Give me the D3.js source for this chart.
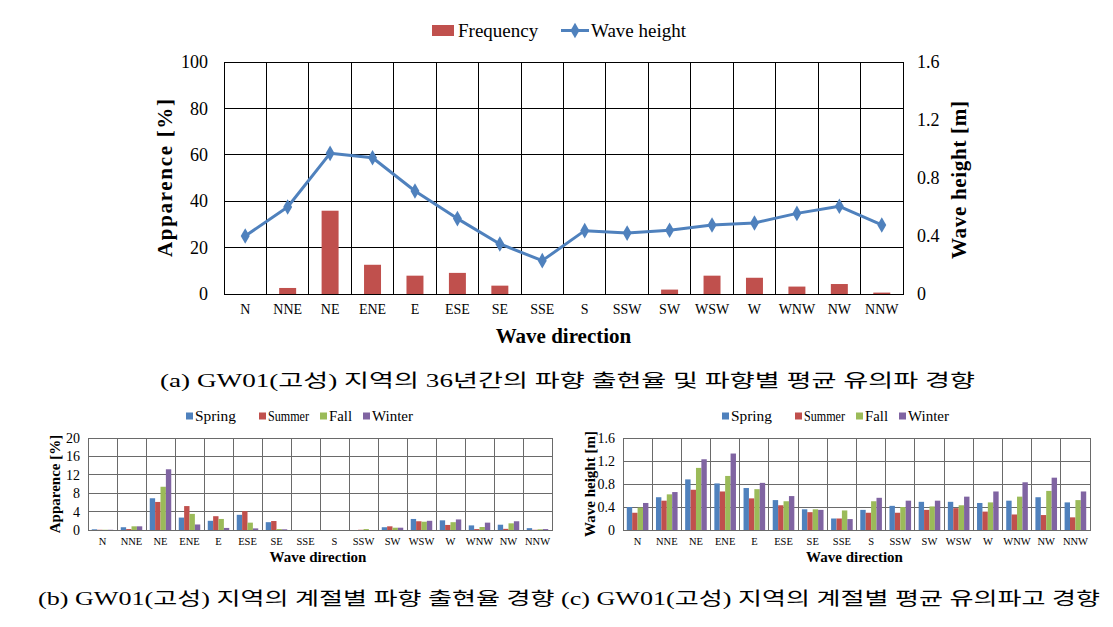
<!DOCTYPE html>
<html><head><meta charset="utf-8">
<script src="https://cdn.jsdelivr.net/npm/d3@7"></script>
<style>
html,body{margin:0;padding:0;background:#fff;}
svg{display:block;}
text{font-family:"Liberation Serif","Times New Roman","Noto Sans CJK KR",serif;fill:#000;}
.kr{font-family:"Liberation Serif","Noto Sans CJK KR",serif;}
</style></head>
<body>
<svg id="fig" width="1113" height="627"></svg>
<script>
// ---------- data ----------
const directions = ["N","NNE","NE","ENE","E","ESE","SE","SSE","S","SSW","SW","WSW","W","WNW","NW","NNW"];
const frequency  = [0, 2.6, 35.9, 12.6, 7.9, 9.1, 3.6, 0, 0, 0, 1.9, 7.9, 7.0, 3.2, 4.3, 0.6];
const waveHeight = [0.40, 0.60, 0.97, 0.94, 0.71, 0.52, 0.345, 0.23, 0.437, 0.42, 0.44, 0.476, 0.49, 0.556, 0.605, 0.476];

const seasons = ["Spring","Summer","Fall","Winter"];
// (b) seasonal appearance [%]
const appSpring = [0.15, 0.6, 6.9, 2.7, 2.0, 3.3, 1.7, 0, 0, 0, 0.6, 2.4, 2.1, 1.0, 1.15, 0.4];
const appSummer = [0.05, 0.2, 6.1, 5.2, 3.0, 4.1, 1.95, 0, 0, 0.05, 0.8, 1.9, 1.1, 0.2, 0.25, 0.05];
const appFall   = [0.05, 0.8, 9.4, 3.5, 2.4, 1.6, 0.2, 0, 0, 0.2, 0.5, 1.8, 1.7, 0.65, 1.45, 0.15];
const appWinter = [0.05, 0.8, 13.2, 1.2, 0.45, 0.35, 0.15, 0, 0, 0, 0.5, 2.0, 2.3, 1.6, 1.9, 0.2];
// (c) seasonal mean wave height [m]
const hsSpring = [0.40, 0.57, 0.88, 0.81, 0.73, 0.52, 0.36, 0.20, 0.35, 0.42, 0.49, 0.49, 0.47, 0.51, 0.57, 0.48];
const hsSummer = [0.30, 0.51, 0.70, 0.67, 0.55, 0.43, 0.31, 0.20, 0.30, 0.30, 0.35, 0.38, 0.32, 0.27, 0.26, 0.22];
const hsFall   = [0.39, 0.62, 1.08, 0.94, 0.71, 0.50, 0.36, 0.34, 0.50, 0.40, 0.41, 0.43, 0.48, 0.58, 0.68, 0.52];
const hsWinter = [0.47, 0.66, 1.23, 1.33, 0.82, 0.59, 0.35, 0.19, 0.56, 0.51, 0.51, 0.58, 0.67, 0.83, 0.91, 0.67];

const leftTicks  = [0, 20, 40, 60, 80, 100];
const rightTicks = [0, 0.4, 0.8, 1.2, 1.6];
const bTicks = [0, 4, 8, 12, 16, 20];
const cTicks = [0, 0.4, 0.8, 1.2, 1.6];

const captionA = "(a) GW01(고성) 지역의 36년간의 파향 출현율 및 파향별 평균 유의파 경향";
const captionBC = "(b) GW01(고성) 지역의 계절별 파향 출현율 경향 (c) GW01(고성) 지역의 계절별 평균 유의파고 경향";

const C_RED = "#C0504D", C_BLUE = "#4F81BD", C_GREEN = "#9BBB59", C_PURPLE = "#8064A2";
const seasonColors = [C_BLUE, C_RED, C_GREEN, C_PURPLE];

const svg = d3.select("#fig");

// ---------- main chart (a) ----------
(function(){
  const L = 224, R = 903, T = 62, B = 294;
  const x = d3.scaleBand().domain(directions).range([L, R]).padding(0);
  const yL = d3.scaleLinear().domain([0, 100]).range([B, T]);
  const yR = d3.scaleLinear().domain([0, 1.6]).range([B, T]);
  const g = svg.append("g");

  // grid
  g.selectAll(".hg").data(leftTicks).join("line")
    .attr("x1", L).attr("x2", R).attr("y1", d => yL(d)).attr("y2", d => yL(d))
    .attr("stroke", "#000").attr("stroke-width", 1).attr("shape-rendering","crispEdges");
  g.selectAll(".vg").data(directions.slice(1)).join("line")
    .attr("x1", d => x(d)).attr("x2", d => x(d)).attr("y1", T).attr("y2", B)
    .attr("stroke", "#000").attr("stroke-width", 1).attr("shape-rendering","crispEdges");
  g.append("rect").attr("x", L).attr("y", T).attr("width", R - L).attr("height", B - T)
    .attr("fill", "none").attr("stroke", "#000").attr("shape-rendering","crispEdges");

  // bars
  const bw = x.bandwidth() * 0.4;
  g.selectAll(".bar").data(frequency).join("rect")
    .attr("x", (d, i) => x(directions[i]) + (x.bandwidth() - bw) / 2)
    .attr("y", d => yL(d)).attr("width", bw).attr("height", d => yL(0) - yL(d))
    .attr("fill", C_RED);

  // line
  const line = d3.line().x((d, i) => x(directions[i]) + x.bandwidth() / 2).y(d => yR(d));
  g.append("path").datum(waveHeight).attr("d", line)
    .attr("fill", "none").attr("stroke", C_BLUE).attr("stroke-width", 3).attr("stroke-linejoin","round");
  const diamond = d3.symbol().type(d3.symbolDiamond).size(70);
  g.selectAll(".mk").data(waveHeight).join("path")
    .attr("d", diamond)
    .attr("transform", (d, i) => `translate(${x(directions[i]) + x.bandwidth() / 2},${yR(d)})`)
    .attr("fill", C_BLUE);

  // axes
  const axL = d3.axisLeft(yL).tickValues(leftTicks).tickSize(0).tickPadding(16);
  const gl = g.append("g").attr("transform", `translate(${L},0)`).call(axL);
  gl.select(".domain").remove();
  gl.selectAll("text").style("font-size", "18px").style("font-family", "Liberation Serif");
  const axR = d3.axisRight(yR).tickValues(rightTicks).tickSize(0).tickPadding(14).tickFormat(d3.format("~g"));
  const gr = g.append("g").attr("transform", `translate(${R},0)`).call(axR);
  gr.select(".domain").remove();
  gr.selectAll("text").style("font-size", "18px").style("font-family", "Liberation Serif");
  const axB = d3.axisBottom(x).tickSize(0).tickPadding(10);
  const gb = g.append("g").attr("transform", `translate(0,${B})`).call(axB);
  gb.select(".domain").remove();
  gb.selectAll("text").style("font-size", "14px").style("font-family", "Liberation Serif");

  // titles
  g.append("text").attr("transform", `translate(172,${(T + B) / 2}) rotate(-90)`)
    .attr("text-anchor", "middle").style("font-size", "21px").style("font-weight", "bold")
    .attr("textLength", 158).attr("lengthAdjust", "spacing").text("Apparence [%]");
  g.append("text").attr("transform", `translate(966,${(T + B) / 2 + 2}) rotate(-90)`)
    .attr("text-anchor", "middle").style("font-size", "21px").style("font-weight", "bold")
    .attr("textLength", 158).attr("lengthAdjust", "spacing").text("Wave height [m]");
  g.append("text").attr("x", (L + R) / 2).attr("y", 343).attr("text-anchor", "middle")
    .style("font-size", "21px").style("font-weight", "bold").text("Wave direction");

  // legend
  g.append("rect").attr("x", 432).attr("y", 25).attr("width", 22).attr("height", 11).attr("fill", C_RED);
  g.append("text").attr("x", 458).attr("y", 37).style("font-size", "19px").text("Frequency");
  g.append("line").attr("x1", 561).attr("x2", 589).attr("y1", 30.5).attr("y2", 30.5)
    .attr("stroke", C_BLUE).attr("stroke-width", 3);
  g.append("path").attr("d", diamond).attr("transform", "translate(575,30.5)").attr("fill", C_BLUE);
  g.append("text").attr("x", 591).attr("y", 37).style("font-size", "19px").text("Wave height");
})();

// ---------- seasonal charts ----------
function seasonal(cfg) {
  const { L, R, T, B, yMax, ticks, series, ylabel, fmt, legendX } = cfg;
  const x = d3.scaleBand().domain(directions).range([L, R]).padding(0);
  const xs = d3.scaleBand().domain(seasons).range([0, x.bandwidth()]).paddingInner(0).paddingOuter(0.7);
  const y = d3.scaleLinear().domain([0, yMax]).range([B, T]);
  const g = svg.append("g");
  const gridC = "#6a6a6a";
  g.selectAll(".hg").data(ticks).join("line")
    .attr("x1", L).attr("x2", R).attr("y1", d => y(d)).attr("y2", d => y(d))
    .attr("stroke", gridC).attr("shape-rendering","crispEdges");
  g.selectAll(".vg").data(directions.slice(1)).join("line")
    .attr("x1", d => x(d)).attr("x2", d => x(d)).attr("y1", T).attr("y2", B)
    .attr("stroke", gridC).attr("shape-rendering","crispEdges");
  g.append("rect").attr("x", L).attr("y", T).attr("width", R - L).attr("height", B - T)
    .attr("fill", "none").attr("stroke", gridC).attr("shape-rendering","crispEdges");

  series.forEach((vals, si) => {
    g.selectAll(".s" + si).data(vals).join("rect")
      .attr("x", (d, i) => x(directions[i]) + xs(seasons[si]))
      .attr("y", d => y(d)).attr("width", xs.bandwidth()).attr("height", d => y(0) - y(d))
      .attr("fill", seasonColors[si]);
  });

  const axL = d3.axisLeft(y).tickValues(ticks).tickSize(0).tickPadding(8).tickFormat(fmt);
  const gl = g.append("g").attr("transform", `translate(${L},0)`).call(axL);
  gl.select(".domain").remove();
  gl.selectAll("text").style("font-size", "14px").style("font-family", "Liberation Serif").attr("fill","#333");
  const axB = d3.axisBottom(x).tickSize(0).tickPadding(8);
  const gb = g.append("g").attr("transform", `translate(0,${B})`).call(axB);
  gb.select(".domain").remove();
  gb.selectAll("text").style("font-size", "10.5px").style("font-family", "Liberation Serif").attr("fill","#333");

  g.append("text").attr("transform", `translate(${L - 28},${(T + B) / 2}) rotate(-90)`)
    .attr("text-anchor", "middle").style("font-size", "15px").style("font-weight", "bold")
    .text(ylabel);
  g.append("text").attr("x", (L + R) / 2 - 2).attr("y", B + 32).attr("text-anchor", "middle")
    .style("font-size", "15px").style("font-weight", "bold").text("Wave direction");

  // legend
  const lg = g.append("g").attr("transform", `translate(${legendX},416)`);
  const offs = [0, 73, 134, 177];
  const lens = [41, 41, 23, 41];
  seasons.forEach((s, i) => {
    lg.append("rect").attr("x", offs[i]).attr("y", -3.5).attr("width", 7).attr("height", 7).attr("fill", seasonColors[i]);
    lg.append("text").attr("x", offs[i] + 9).attr("y", 5).style("font-size", "14px").attr("fill","#222")
      .attr("textLength", lens[i]).attr("lengthAdjust", "spacingAndGlyphs").text(s);
  });
}

seasonal({ L: 88, R: 552, T: 438, B: 530, yMax: 20, ticks: bTicks,
  series: [appSpring, appSummer, appFall, appWinter], ylabel: "Apparence [%]",
  fmt: d3.format("~g"), legendX: 186 });
seasonal({ L: 623, R: 1090, T: 438, B: 530, yMax: 1.6, ticks: cTicks,
  series: [hsSpring, hsSummer, hsFall, hsWinter], ylabel: "Wave height [m]",
  fmt: d3.format("~g"), legendX: 722 });

// ---------- captions ----------
svg.append("text").attr("class","kr").attr("x", 160).attr("y", 387)
  .attr("textLength", 815).attr("lengthAdjust", "spacingAndGlyphs")
  .style("font-size", "18px").text(captionA);
svg.append("text").attr("class","kr").attr("x", 38).attr("y", 605)
  .attr("textLength", 1062).attr("lengthAdjust", "spacingAndGlyphs")
  .style("font-size", "18px").text(captionBC);
</script>
</body></html>
